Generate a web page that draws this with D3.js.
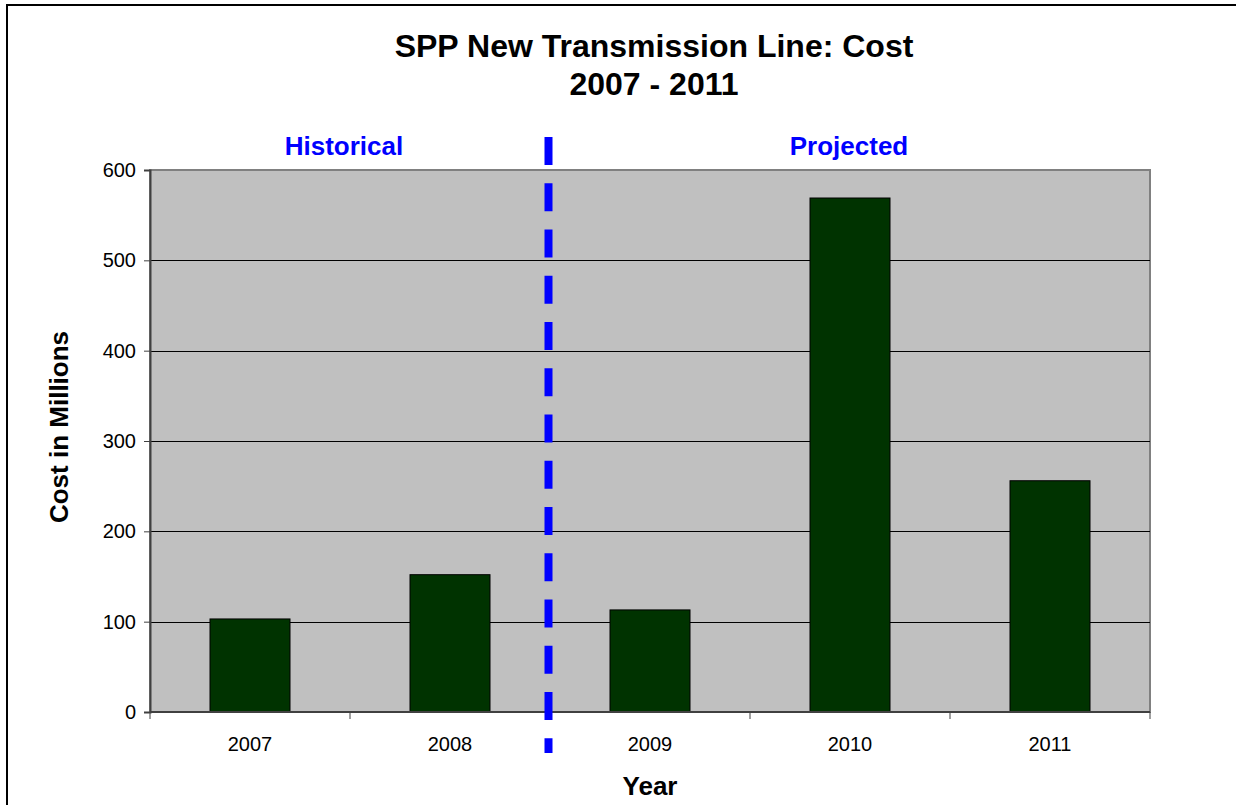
<!DOCTYPE html>
<html>
<head>
<meta charset="utf-8">
<script src="https://cdn.jsdelivr.net/npm/d3@7"></script>
<style>
  body { margin: 0; background: #fff; }
  svg { display: block; font-family: "Liberation Sans", Arial, sans-serif; }
</style>
</head>
<body>
<svg id="chart" width="1236" height="805"></svg>
<script>
"use strict";

// Data variables
const YEARS = ["2007", "2008", "2009", "2010", "2011"];
const COSTS = [103, 152, 113, 569, 256]; // Cost in millions
const Y_TICKS = [0, 100, 200, 300, 400, 500, 600];
const PERIODS = ["Historical", "Projected"];
const TITLE_LINES = ["SPP New Transmission Line: Cost", "2007 - 2011"];

// Static dimension variables
const SVG_WIDTH = 1236;
const SVG_HEIGHT = 805;
const PLOT = { left: 150, right: 1150, top: 170, bottom: 712 };
const BAR_COLOR = "#003300";
const PLOT_BG = "#c0c0c0";

const SVG = d3.select("#chart");

// Outer frame
SVG.append("rect")
  .attr("x", 7)
  .attr("y", 5)
  .attr("width", SVG_WIDTH)
  .attr("height", SVG_HEIGHT)
  .attr("fill", "#fff")
  .attr("stroke", "#000")
  .attr("stroke-width", 2);

// Scales
const X_SCALE = d3
  .scaleBand()
  .domain(YEARS)
  .range([PLOT.left, PLOT.right])
  .paddingInner(0.6)
  .paddingOuter(0.3);

const Y_SCALE = d3
  .scaleLinear()
  .domain([0, 600])
  .range([PLOT.bottom, PLOT.top]);

// Plot background
SVG.append("rect")
  .attr("x", PLOT.left)
  .attr("y", PLOT.top)
  .attr("width", PLOT.right - PLOT.left)
  .attr("height", PLOT.bottom - PLOT.top)
  .attr("fill", PLOT_BG)
  .attr("stroke", "#808080")
  .attr("stroke-width", 2);

// Gridlines
SVG.append("g")
  .selectAll("line")
  .data(Y_TICKS.filter(function(d) { return d > 0 && d < 600; }))
  .join("line")
  .attr("x1", PLOT.left)
  .attr("x2", PLOT.right)
  .attr("y1", function(d) { return Math.round(Y_SCALE(d)) + 0.5; })
  .attr("y2", function(d) { return Math.round(Y_SCALE(d)) + 0.5; })
  .attr("stroke", "#000")
  .attr("stroke-width", 1);

// Bars
SVG.append("g")
  .selectAll("rect")
  .data(COSTS)
  .join("rect")
  .attr("x", function(d, i) { return X_SCALE(YEARS[i]); })
  .attr("y", function(d) { return Y_SCALE(d); })
  .attr("width", X_SCALE.bandwidth())
  .attr("height", function(d) { return PLOT.bottom - Y_SCALE(d); })
  .attr("fill", BAR_COLOR)
  .attr("stroke", "#000")
  .attr("stroke-width", 1);

// Y axis
const Y_AXIS = SVG.append("g")
  .attr("transform", "translate(" + PLOT.left + ",0)")
  .call(
    d3.axisLeft(Y_SCALE)
      .tickValues(Y_TICKS)
      .tickSize(6)
      .tickPadding(8)
  );
Y_AXIS.select(".domain").attr("stroke", "#404040").attr("stroke-width", 2);
Y_AXIS.selectAll(".tick line").attr("stroke", "#404040");
Y_AXIS.selectAll("text")
  .attr("font-size", 20)
  .attr("fill", "#000")
  .attr("font-family", "Liberation Sans, Arial, sans-serif");

// X axis: ticks at category boundaries
const STEP = X_SCALE.step();
const X_AXIS = SVG.append("g");
X_AXIS.append("line")
  .attr("x1", PLOT.left)
  .attr("x2", PLOT.right)
  .attr("y1", PLOT.bottom)
  .attr("y2", PLOT.bottom)
  .attr("stroke", "#404040")
  .attr("stroke-width", 2);
X_AXIS.selectAll(".xtick")
  .data(d3.range(YEARS.length + 1))
  .join("line")
  .attr("class", "xtick")
  .attr("x1", function(i) { return PLOT.left + i * STEP; })
  .attr("x2", function(i) { return PLOT.left + i * STEP; })
  .attr("y1", PLOT.bottom)
  .attr("y2", PLOT.bottom + 7)
  .attr("stroke", "#404040")
  .attr("stroke-width", 1);
X_AXIS.selectAll("text")
  .data(YEARS)
  .join("text")
  .attr("x", function(d) { return X_SCALE(d) + X_SCALE.bandwidth() / 2; })
  .attr("y", 751)
  .attr("text-anchor", "middle")
  .attr("font-size", 20)
  .text(function(d) { return d; });

// Axis titles
SVG.append("text")
  .attr("x", 650)
  .attr("y", 795)
  .attr("text-anchor", "middle")
  .attr("font-size", 26)
  .attr("font-weight", "bold")
  .text("Year");

SVG.append("text")
  .attr("transform", "translate(68,427) rotate(-90)")
  .attr("text-anchor", "middle")
  .attr("font-size", 26)
  .attr("font-weight", "bold")
  .text("Cost in Millions");

// Title
SVG.append("g")
  .selectAll("text")
  .data(TITLE_LINES)
  .join("text")
  .attr("x", 654)
  .attr("y", function(d, i) { return 57 + i * 38; })
  .attr("text-anchor", "middle")
  .attr("font-size", 32)
  .attr("font-weight", "bold")
  .text(function(d) { return d; });

// Period labels
const PERIOD_X = [344, 849];
SVG.append("g")
  .selectAll("text")
  .data(PERIODS)
  .join("text")
  .attr("x", function(d, i) { return PERIOD_X[i]; })
  .attr("y", 155)
  .attr("text-anchor", "middle")
  .attr("font-size", 26)
  .attr("font-weight", "bold")
  .attr("fill", "#0000ff")
  .text(function(d) { return d; });

// Dashed divider between historical and projected
SVG.append("line")
  .attr("x1", 548.5)
  .attr("x2", 548.5)
  .attr("y1", 137)
  .attr("y2", 753)
  .attr("stroke", "#0000ff")
  .attr("stroke-width", 8)
  .attr("stroke-dasharray", "28 18.25");
</script>
</body>
</html>
